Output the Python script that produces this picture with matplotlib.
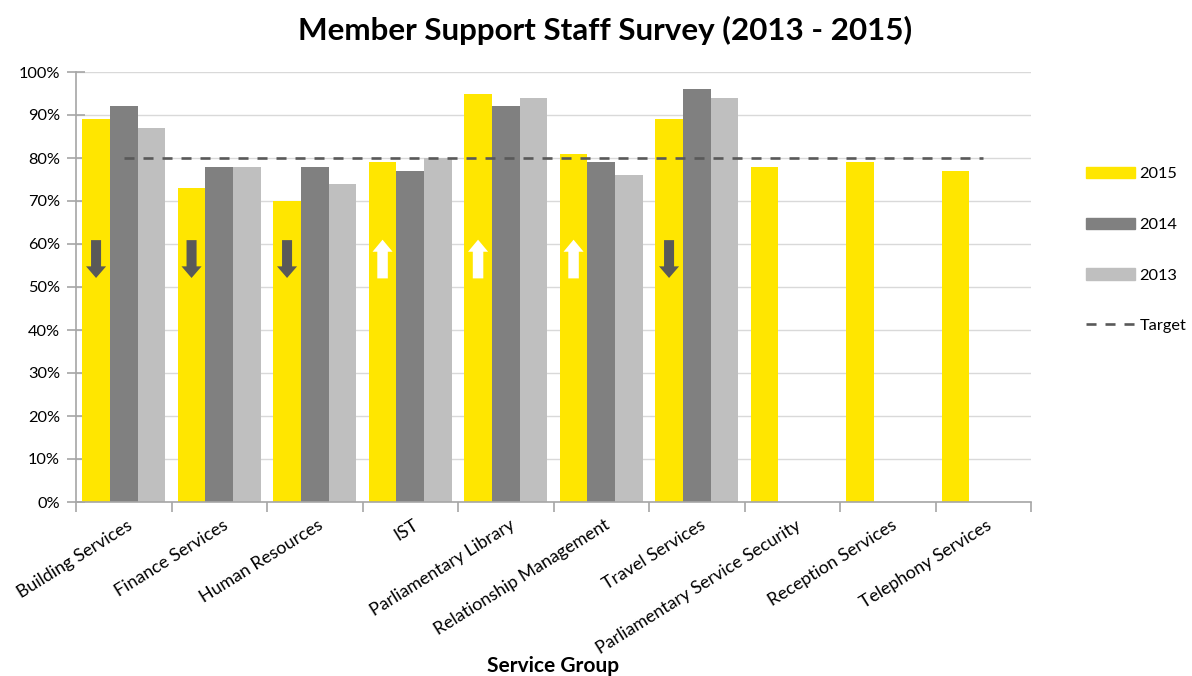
import matplotlib
matplotlib.use('Agg')
import matplotlib.pyplot as plt
from matplotlib.patches import FancyArrow, Patch
from matplotlib.lines import Line2D
from matplotlib.ticker import PercentFormatter, FixedLocator
import numpy as np

plt.rcParams['font.family'] = ['Lato', 'DejaVu Sans']

groups = ['Building Services', 'Finance Services', 'Human Resources', 'IST',
          'Parliamentary Library', 'Relationship Management', 'Travel Services',
          'Parliamentary Service Security', 'Reception Services', 'Telephony Services']
scores_2015 = [0.89, 0.73, 0.70, 0.79, 0.95, 0.81, 0.89, 0.78, 0.79, 0.77]
scores_2014 = [0.92, 0.78, 0.78, 0.77, 0.92, 0.79, 0.96]
scores_2013 = [0.87, 0.78, 0.74, 0.80, 0.94, 0.76, 0.94]
target = 0.80
trend = ['down', 'down', 'down', 'up', 'up', 'up', 'down', None, None, None]

yellow = '#FFE600'
grey = '#808080'
light = '#BFBFBF'
dark = '#595959'

fig = plt.figure(figsize=(11.92, 6.76), dpi=100)
ax = fig.add_axes([76 / 1192, 1 - 502 / 676, 955 / 1192, 430 / 676])

w = 0.29
x15 = np.arange(len(scores_2015))
x14 = np.arange(len(scores_2014))
x13 = np.arange(len(scores_2013))
ax.bar(x15 - w, scores_2015, w, color=yellow, zorder=2, label='2015')
ax.bar(x14, scores_2014, w, color=grey, zorder=2, label='2014')
ax.bar(x13 + w, scores_2013, w, color=light, zorder=2, label='2013')

ax.plot([0, len(groups) - 1], [target, target], color=dark, lw=1.9,
        dashes=(3.8, 3.4), zorder=3, label='Target')

# trend arrows inside the 2015 bars
for i, t in enumerate(trend):
    if t is None:
        continue
    if t == 'down':
        arr = FancyArrow(i - w, 0.609, 0, -0.088, width=0.105, head_width=0.21,
                         head_length=0.027, length_includes_head=True,
                         color=dark, lw=0, zorder=4)
    else:
        arr = FancyArrow(i - w, 0.520, 0, 0.090, width=0.11, head_width=0.21,
                         head_length=0.028, length_includes_head=True,
                         color='white', lw=0, zorder=4)
    ax.add_patch(arr)

ax.set_xlim(-0.5, len(groups) - 0.5)
ax.set_ylim(0, 1.0)
ax.set_yticks(np.arange(0, 1.01, 0.1))
ax.yaxis.set_major_formatter(PercentFormatter(1.0, decimals=0))
ax.grid(axis='y', color='#D9D9D9', lw=1, zorder=0)
ax.set_axisbelow(True)

for s in ['top', 'right']:
    ax.spines[s].set_visible(False)
for s in ['left', 'bottom']:
    ax.spines[s].set_color('#A6A6A6')
    ax.spines[s].set_linewidth(1.2)

ax.tick_params(axis='y', direction='inout', length=13, width=1.2, color='#A6A6A6',
               labelsize=11.8, labelcolor='black', pad=5)
ax.set_xticks([])
ax.xaxis.set_minor_locator(FixedLocator(np.arange(-0.5, len(groups), 1.0)))
ax.tick_params(axis='x', which='minor', length=7, width=1.2, color='#A6A6A6')

# category labels, right end sitting just past the category centre
for i, name in enumerate(groups):
    ax.text(i + 3 / 95.5, -0.035, name, rotation=32, rotation_mode='anchor',
            ha='right', va='top', fontsize=12.8)

fig.text(553 / 1192, 1 - 666 / 676, 'Service Group', ha='center', va='center',
         fontsize=15, fontweight='bold')
fig.text(605 / 1192, 1 - 30 / 676, 'Member Support Staff Survey (2013 - 2015)',
         ha='center', va='center', fontsize=22.6, fontweight='bold')

handles = [Patch(color=yellow), Patch(color=grey), Patch(color=light),
           Line2D([], [], color=dark, lw=1.9, dashes=(3.8, 3.4))]
fig.legend(handles, ['2015', '2014', '2013', 'Target'], loc='upper left',
           bbox_to_anchor=(1086 / 1192, 1 - 167 / 676), frameon=False,
           fontsize=11.8, handlelength=3.0, handleheight=0.7,
           labelspacing=2.2, handletextpad=0.25, borderpad=0, borderaxespad=0)

fig.savefig('out.png', dpi=100)
